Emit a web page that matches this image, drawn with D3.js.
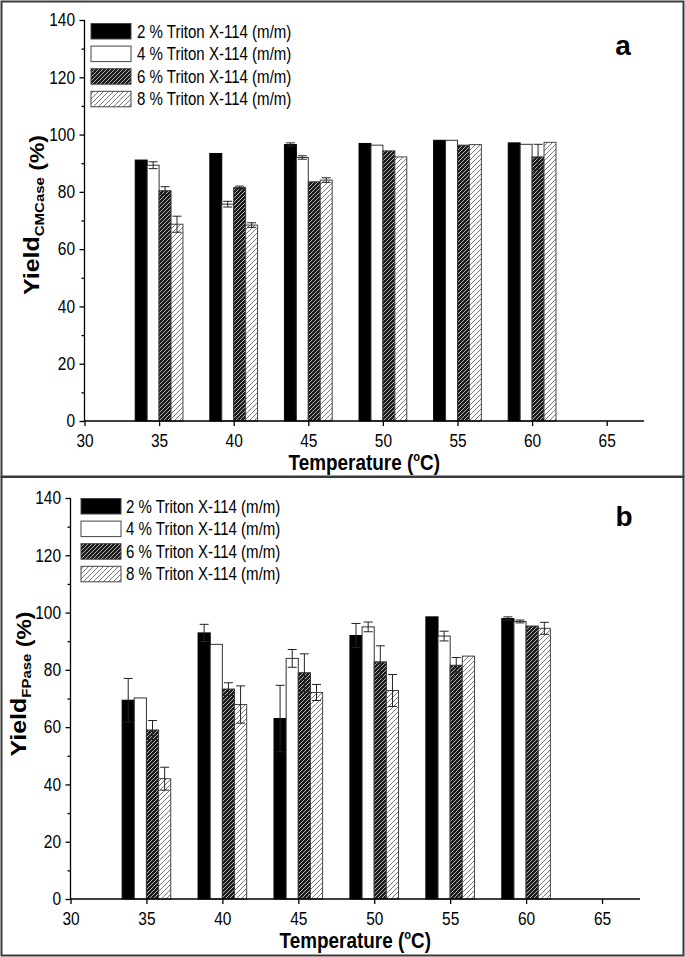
<!DOCTYPE html>
<html><head><meta charset="utf-8">
<script src="https://cdn.jsdelivr.net/npm/d3@7"></script>
<style>
html,body{margin:0;padding:0;background:#fff;}
svg{display:block;}
text{font-family:"Liberation Sans",Arial,sans-serif;fill:#000;}
</style></head>
<body>
<script>
// ---------- DATA ----------
const temperatures = [35, 40, 45, 50, 55, 60];
const seriesNames = ["2 % Triton X-114 (m/m)", "4 % Triton X-114 (m/m)", "6 % Triton X-114 (m/m)", "8 % Triton X-114 (m/m)"];
const xTicks = [30, 35, 40, 45, 50, 55, 60, 65];
const yTicks = [0, 20, 40, 60, 80, 100, 120, 140];
const yMinorTicks = [10, 30, 50, 70, 90, 110, 130];

// Panel a: Yield CMCase (%)
const cmcase2 = [91.1, 93.4, 96.5, 96.9, 98.0, 97.1];
const cmcase4 = [89.3, 75.7, 92.0, 96.3, 98.0, 96.6];
const cmcase6 = [80.4, 81.5, 83.5, 94.3, 96.3, 92.2];
const cmcase8 = [68.7, 68.4, 84.1, 92.2, 96.5, 97.3];
const cmcase2Err = [0, 0, 0.6, 0, 0, 0];
const cmcase4Err = [1.2, 1.0, 0.6, 0, 0, 0];
const cmcase6Err = [1.4, 0.5, 0, 0, 0, 4.4];
const cmcase8Err = [2.8, 0.8, 0.8, 0, 0, 0];

// Panel b: Yield FPase (%)
const fpase2 = [69.4, 92.9, 63.0, 92.0, 98.5, 97.9];
const fpase4 = [70.2, 88.9, 84.0, 95.0, 91.8, 96.9];
const fpase6 = [59.0, 73.3, 79.0, 82.8, 81.6, 95.3];
const fpase8 = [42.0, 67.9, 72.1, 72.8, 84.8, 94.5];
const fpase2Err = [7.6, 3.0, 11.6, 4.2, 0, 0.6];
const fpase4Err = [0, 0, 3.1, 1.7, 1.7, 0.5];
const fpase6Err = [3.3, 2.2, 6.6, 5.6, 2.7, 0];
const fpase8Err = [4.0, 6.5, 2.8, 5.6, 0, 2.1];

// ---------- DRAW ----------
const W = 685, H = 957;
const svg = d3.select("body").append("svg").attr("width", W).attr("height", H);

const defs = svg.append("defs");
const pDark = defs.append("pattern").attr("id", "hatchDark").attr("patternUnits", "userSpaceOnUse")
  .attr("width", 4).attr("height", 4);
pDark.append("rect").attr("width", 4).attr("height", 4).attr("fill", "#1c1c1c");
pDark.append("path").attr("d", "M-1,1 l2,-2 M0,4 l4,-4 M3,5 l2,-2").attr("stroke", "#d8d8d8").attr("stroke-width", 0.8);
const pLight = defs.append("pattern").attr("id", "hatchLight").attr("patternUnits", "userSpaceOnUse")
  .attr("width", 5).attr("height", 5);
pLight.append("rect").attr("width", 5).attr("height", 5).attr("fill", "#fff");
pLight.append("path").attr("d", "M-1,1 l2,-2 M0,5 l5,-5 M4,6 l2,-2").attr("stroke", "#555").attr("stroke-width", 0.8);

const fills = ["#000", "#fff", "url(#hatchDark)", "url(#hatchLight)"];
const barStroke = ["#000", "#333", "#333", "#444"];

// frames
svg.append("rect").attr("x", 1.5).attr("y", 1.5).attr("width", 682).attr("height", 475)
  .attr("fill", "none").attr("stroke", "#3a3a3a").attr("stroke-width", 2);
svg.append("rect").attr("x", 1.5).attr("y", 477).attr("width", 682).attr("height", 478.5)
  .attr("fill", "none").attr("stroke", "#3a3a3a").attr("stroke-width", 2);

const SX = 0.86; // horizontal condensing of text, as in the reference

function drawPanel(cfg) {
  const g = svg.append("g");
  const x = d3.scaleLinear().domain([30, 67.5]).range([cfg.x0, cfg.xEnd]);
  const y = d3.scaleLinear().domain([0, 140]).range([cfg.y0, cfg.yTop]);
  const bw = 0.8;

  // bars
  cfg.series.forEach((vals, si) => {
    g.append("g").selectAll("rect").data(vals).join("rect")
      .attr("x", (d, i) => x(temperatures[i] + (si - 2) * bw))
      .attr("width", x(30 + bw) - x(30))
      .attr("y", d => y(d))
      .attr("height", d => y(0) - y(d))
      .attr("fill", fills[si])
      .attr("stroke", barStroke[si]).attr("stroke-width", 1);
  });
  // error bars
  cfg.series.forEach((vals, si) => {
    const errs = cfg.errors[si];
    vals.forEach((v, i) => {
      const e = errs[i];
      if (!e) return;
      const cx = x(temperatures[i] + (si - 2) * bw + bw / 2);
      const eg = g.append("g").attr("stroke", "#222").attr("stroke-width", 1);
      eg.append("line").attr("x1", cx).attr("x2", cx).attr("y1", y(v - e)).attr("y2", y(v + e));
      eg.append("line").attr("x1", cx - 4.5).attr("x2", cx + 4.5).attr("y1", y(v + e)).attr("y2", y(v + e));
      eg.append("line").attr("x1", cx - 4.5).attr("x2", cx + 4.5).attr("y1", y(v - e)).attr("y2", y(v - e));
    });
  });

  // axes
  const xAxis = d3.axisBottom(x).tickValues(xTicks).tickSize(5).tickPadding(8).tickFormat(d3.format("d"));
  const xg = g.append("g").attr("transform", `translate(0,${cfg.y0})`).call(xAxis);
  xg.select(".domain").attr("stroke-width", 1.3).attr("d", `M${cfg.x0},0H${cfg.xEnd}`);
  xg.selectAll(".tick line").attr("stroke-width", 1.3);
  xg.selectAll("text").attr("font-size", 18).attr("font-family", "Liberation Sans, Arial, sans-serif")
    .attr("transform", `scale(${SX},1)`);

  const yAxis = d3.axisLeft(y).tickValues(yTicks).tickSize(5).tickPadding(6).tickFormat(d3.format("d"));
  const yg = g.append("g").attr("transform", `translate(${cfg.x0},0)`).call(yAxis);
  yg.select(".domain").attr("stroke-width", 1.3).attr("d", `M0,${cfg.y0}V${cfg.yTop}`);
  yg.selectAll(".tick line").attr("stroke-width", 1.3);
  yg.selectAll("text").attr("font-size", 18).attr("font-family", "Liberation Sans, Arial, sans-serif")
    .attr("transform", `scale(${SX},1)`);
  const yMinor = d3.axisLeft(y).tickValues(yMinorTicks).tickSize(3).tickFormat("");
  const ym = g.append("g").attr("transform", `translate(${cfg.x0},0)`).call(yMinor);
  ym.select(".domain").remove();
  ym.selectAll(".tick line").attr("stroke-width", 1.3);

  // x title
  const xt = g.append("text")
    .attr("transform", `translate(${(cfg.x0 + cfg.xEnd) / 2},${cfg.y0 + 49}) scale(${SX},1)`)
    .attr("text-anchor", "middle").attr("font-size", 22).attr("font-weight", "bold");
  xt.append("tspan").text("Temperature (");
  xt.append("tspan").attr("font-size", 13).attr("dy", -9).text("o");
  xt.append("tspan").attr("dy", 9).text("C)");

  // y title
  const yt = g.append("text")
    .attr("transform", `translate(${cfg.yTitleX},${cfg.yTitleY}) rotate(-90) scale(1,${SX})`)
    .attr("text-anchor", "middle").attr("font-size", 25).attr("font-weight", "bold");
  yt.append("tspan").text("Yield");
  yt.append("tspan").attr("font-size", 15).attr("dy", 6).text(cfg.sub);
  yt.append("tspan").attr("font-size", 23).attr("dy", 0).text(" (%)");

  // panel letter
  g.append("text").attr("x", cfg.letterX).attr("y", cfg.letterY).attr("text-anchor", "middle")
    .attr("font-family", "Liberation Serif, Times New Roman, serif").attr("font-weight", "bold")
    .attr("font-size", 28).text(cfg.letter);

  // legend
  const lg = g.append("g");
  seriesNames.forEach((name, si) => {
    const top = cfg.legTop + si * 22.6;
    lg.append("rect").attr("x", cfg.legX).attr("y", top).attr("width", 40).attr("height", 15.5)
      .attr("fill", fills[si]).attr("stroke", "#444").attr("stroke-width", 1);
    lg.append("text").attr("transform", `translate(${cfg.legTextX},${top + 14}) scale(${SX},1)`)
      .attr("font-size", 17.5).text(name);
  });
}

drawPanel({
  x0: 84.5, xEnd: 644, y0: 421, yTop: 20,
  series: [cmcase2, cmcase4, cmcase6, cmcase8],
  errors: [cmcase2Err, cmcase4Err, cmcase6Err, cmcase8Err],
  sub: "CMCase", yTitleX: 39, yTitleY: 215, letter: "a", letterX: 623, letterY: 55,
  legX: 91, legTop: 23.5, legTextX: 137
});
drawPanel({
  x0: 70.5, xEnd: 640, y0: 899, yTop: 498,
  series: [fpase2, fpase4, fpase6, fpase8],
  errors: [fpase2Err, fpase4Err, fpase6Err, fpase8Err],
  sub: "FPase", yTitleX: 26, yTitleY: 684, letter: "b", letterX: 624, letterY: 526,
  legX: 81, legTop: 498.5, legTextX: 126
});
</script>
</body></html>
